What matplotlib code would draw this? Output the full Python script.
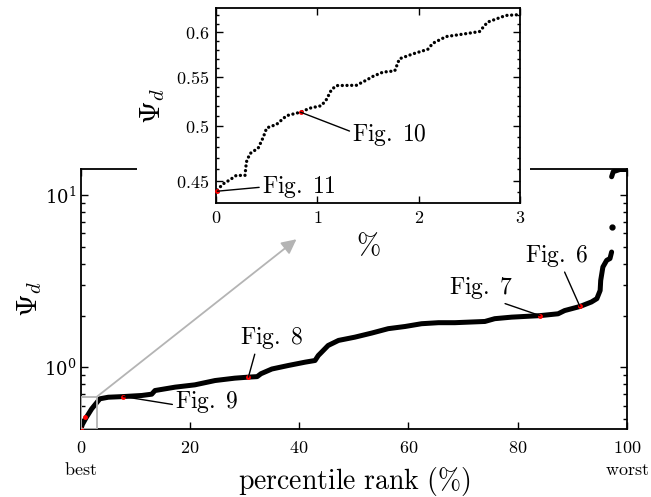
import numpy as np
import matplotlib
matplotlib.use("Agg")
import matplotlib.pyplot as plt
from matplotlib.patches import Rectangle
from matplotlib.ticker import NullFormatter, FixedLocator

plt.rcParams['mathtext.fontset'] = 'cm'
plt.rcParams['font.family'] = ['DejaVu Serif']

# main curve (percentile rank, Psi_d)
main_pct = [0.05, 0.3, 0.97, 2.0, 2.93, 3.5, 5.05, 7.8, 11.2, 13.0, 13.6, 17.3, 20.9,
            24.6, 28.2, 30.7, 32.3, 33.0, 35.0, 38.0, 41.1, 42.9, 43.5, 44.1, 45.3,
            47.2, 50.2, 53.3, 56.3, 59.4, 62.4, 65.5, 68.5, 74.0, 75.8, 78.9, 84.1,
            87.4, 88.6, 91.4, 93.5, 94.5, 95.1, 95.2, 95.6, 96.3, 96.9, 97.2]
main_psi = [0.441, 0.467, 0.51, 0.575, 0.625, 0.658, 0.672, 0.678, 0.688, 0.70, 0.735,
            0.769, 0.793, 0.840, 0.867, 0.879, 0.885, 0.92, 0.98, 1.027, 1.074, 1.098,
            1.174, 1.227, 1.342, 1.436, 1.50, 1.585, 1.68, 1.73, 1.795, 1.82, 1.82,
            1.85, 1.92, 1.96, 2.00, 2.05, 2.14, 2.26, 2.40, 2.51, 2.80, 3.2, 3.83,
            4.19, 4.29, 4.68]
lone_pct = [97.2]
lone_psi = [6.5]
top_pct = [97.2, 97.5, 98.7, 100.0]
top_psi = [12.8, 13.7, 14.1, 14.1]

# inset: first 3 %
zoom_pct = [0.013, 0.066, 0.14, 0.20, 0.286, 0.30, 0.335, 0.417, 0.466, 0.50, 0.598,
            0.696, 0.834, 0.926, 1.04, 1.09, 1.14, 1.19, 1.386, 1.485, 1.55, 1.648,
            1.764, 1.81, 1.944, 2.09, 2.14, 2.27, 2.44, 2.60, 2.68, 2.86, 3.0]
zoom_psi = [0.442, 0.447, 0.451, 0.4547, 0.4547, 0.4667, 0.4743, 0.4795, 0.4895,
            0.4985, 0.502, 0.5105, 0.514, 0.518, 0.5205, 0.5268, 0.537, 0.5412,
            0.5415, 0.547, 0.551, 0.5555, 0.5568, 0.570, 0.5755, 0.5806, 0.5874,
            0.5951, 0.598, 0.6009, 0.612, 0.620, 0.621]

# highlighted cases
fig_names = ['Fig. 6', 'Fig. 7', 'Fig. 8', 'Fig. 9', 'Fig. 10', 'Fig. 11']
fig_pct = [91.4, 84.1, 30.7, 7.8, 0.834, 0.013]
fig_psi = [2.26, 2.00, 0.879, 0.678, 0.514, 0.441]

xticks_main = [0, 20, 40, 60, 80, 100]
xticks_zoom = [0, 1, 2, 3]
yticks_zoom = [0.45, 0.5, 0.55, 0.6]


def figtext(name):
    return r'$\mathrm{' + name.replace(' ', r'\;') + '}$'


fig = plt.figure(figsize=(6.51, 4.97), dpi=100)
ax = fig.add_axes([0.124, 0.137, 0.839, 0.523])

ax.plot(main_pct, main_psi, '-', color='k', lw=3.6, solid_capstyle='round', zorder=2)
ax.plot(lone_pct, lone_psi, 'o', color='k', ms=3.5, zorder=2)
ax.plot(top_pct, top_psi, '-', color='k', lw=3.6, solid_capstyle='round', zorder=2)
ax.plot(fig_pct, fig_psi, 'o', color='red', ms=3.5, mec='none', zorder=3)

ax.set_yscale('log')
ax.set_xlim(0, 100)
ax.set_ylim(0.44, 14.2)
ax.set_xticks(xticks_main, [f'${t}$' for t in xticks_main])
ax.yaxis.set_minor_formatter(NullFormatter())
ax.tick_params(which='both', direction='in', top=True, right=True, width=1, labelsize=13)
ax.tick_params(which='major', length=5)
ax.tick_params(which='minor', length=3)
ax.tick_params(axis='x', pad=7)
ax.tick_params(axis='y', pad=3)
for s in ax.spines.values():
    s.set_linewidth(1.3)

ax.set_xlabel(r'$\mathrm{percentile\ rank\ (\%)}$', fontsize=20)
ax.xaxis.set_label_coords(0.5, -0.14)
ax.set_ylabel(r'$\Psi_d$', fontsize=21)
ax.yaxis.set_label_coords(-0.068, 0.5)
ax.text(0, -0.125, r'$\mathrm{best}$', transform=ax.get_xaxis_transform(),
        ha='center', va='top', fontsize=13)
ax.text(100, -0.125, r'$\mathrm{worst}$', transform=ax.get_xaxis_transform(),
        ha='center', va='top', fontsize=13)

# zoom box and arrow
ax.add_patch(Rectangle((0, 0.44), 3, 0.678 - 0.44, fill=False, ec='#b4b4b4', lw=1.3, zorder=4))
ax.annotate('', xy=(39.5, 5.55), xytext=(3, 0.678),
            arrowprops=dict(arrowstyle='-|>', color='#b4b4b4', lw=1.3,
                            mutation_scale=22, shrinkA=0, shrinkB=0))

# labels on main axes
main_labels = {
    'Fig. 6': ((87.1, 4.42), (0.61, 0.0)),
    'Fig. 7': ((73.3, 2.90), (0.75, 0.0)),
    'Fig. 8': ((35.0, 1.475), (0.24, 0.0)),
    'Fig. 9': ((23.05, 0.628), (0.0, 0.4)),
}
for name, p, v in zip(fig_names, fig_pct, fig_psi):
    if name in main_labels:
        pos, rel = main_labels[name]
        ax.annotate(figtext(name), xy=(p, v), xytext=pos,
                    ha='center', va='center', fontsize=17,
                    arrowprops=dict(arrowstyle='-', color='k', lw=1, relpos=rel,
                                    shrinkA=0, shrinkB=0))

# white band hiding the main top spine behind the inset
fig.add_artist(Rectangle((137 / 651, 1 - 182 / 497), (530 - 137) / 651, 24 / 497,
                         transform=fig.transFigure, fc='white', ec='none', zorder=1))

# inset
axin = fig.add_axes([0.3318, 0.5915, 0.467, 0.3924], zorder=2)
axin.plot(zoom_pct, zoom_psi, color='k', lw=2.4, ls=(0, (0.01, 1.4)),
          dash_capstyle='round')
axin.plot(fig_pct[4:], fig_psi[4:], 'o', color='red', ms=3.5, mec='none', zorder=3,
          clip_on=False)
axin.set_yscale('log')
axin.set_xlim(0, 3)
axin.set_ylim(0.431, 0.629)
axin.set_xticks(xticks_zoom, [f'${t}$' for t in xticks_zoom])
axin.yaxis.set_major_locator(FixedLocator(yticks_zoom))
axin.set_yticklabels([f'${t:g}$' for t in yticks_zoom])
axin.yaxis.set_minor_locator(FixedLocator(np.arange(0.44, 0.63, 0.01)))
axin.yaxis.set_minor_formatter(NullFormatter())
axin.tick_params(which='both', direction='in', top=True, right=True, width=1, labelsize=13)
axin.tick_params(which='major', length=5)
axin.tick_params(which='minor', length=2.5)
axin.tick_params(axis='x', pad=4)
axin.tick_params(axis='y', pad=5)
for s in axin.spines.values():
    s.set_linewidth(1.3)
axin.set_xlabel(r'$\%$', fontsize=21)
axin.xaxis.set_label_coords(0.5, -0.15)
axin.set_ylabel(r'$\Psi_d$', fontsize=21)
axin.yaxis.set_label_coords(-0.16, 0.5)

inset_labels = {
    'Fig. 10': ((1.714, 0.492), (0.0, 0.6)),
    'Fig. 11': ((0.818, 0.4445), (0.0, 0.5)),
}
for name, p, v in zip(fig_names, fig_pct, fig_psi):
    if name in inset_labels:
        pos, rel = inset_labels[name]
        axin.annotate(figtext(name), xy=(p, v), xytext=pos,
                      ha='center', va='center', fontsize=17,
                      arrowprops=dict(arrowstyle='-', color='k', lw=1, relpos=rel,
                                      shrinkA=0, shrinkB=0))

fig.savefig('out.png', dpi=100)
